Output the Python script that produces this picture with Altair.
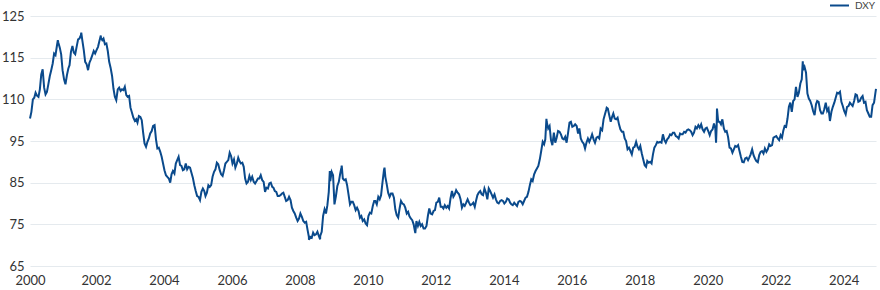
import altair as alt
import pandas as pd

# Semi-monthly readings (1st and 16th of each month), DXY index
dxy_2000 = [100.4, 102.0, 105.0, 105.4, 106.6, 105.9, 105.6, 107.4, 111.0, 112.2, 107.8, 106.2,
            106.8, 108.6, 110.6, 112.0, 113.6, 116.0, 115.6, 117.8, 118.6, 117.4, 115.8, 112.0]
dxy_2001 = [109.8, 108.6, 110.8, 112.4, 113.2, 116.4, 117.8, 116.2, 115.8, 117.6, 119.4, 119.6,
            120.4, 119.2, 116.8, 114.0, 113.4, 112.0, 113.8, 114.6, 115.6, 116.6, 116.0, 116.8]
dxy_2002 = [117.6, 119.0, 119.8, 119.2, 119.6, 118.2, 118.4, 116.6, 114.0, 112.6, 110.6, 107.6,
            105.6, 104.8, 107.4, 107.8, 107.0, 107.4, 107.2, 108.0, 106.0, 105.6, 105.8, 103.0]
dxy_2003 = [101.8, 100.6, 99.8, 100.2, 99.4, 101.0, 100.8, 100.0, 97.0, 94.4, 93.6, 94.8,
            95.6, 96.8, 97.4, 98.6, 98.8, 95.4, 93.2, 93.4, 92.4, 91.2, 89.6, 88.0]
dxy_2004 = [86.8, 86.4, 86.0, 85.0, 87.0, 87.8, 87.2, 89.6, 90.4, 91.2, 89.2, 89.0,
            88.0, 88.2, 89.6, 88.2, 88.8, 88.6, 87.4, 86.2, 84.4, 83.0, 81.8, 81.6]
dxy_2005 = [80.8, 82.8, 83.6, 83.0, 81.8, 82.6, 84.4, 84.0, 84.4, 86.4, 87.6, 88.2,
            89.8, 89.4, 88.0, 87.0, 86.6, 88.0, 89.6, 90.0, 90.4, 92.2, 91.4, 89.6]
dxy_2006 = [90.6, 88.6, 89.6, 91.0, 90.2, 89.6, 89.8, 88.8, 86.0, 84.8, 85.2, 86.6,
            85.6, 86.4, 85.2, 84.8, 85.4, 86.0, 86.0, 86.8, 85.6, 85.2, 82.8, 83.8]
dxy_2007 = [83.6, 84.8, 85.0, 84.0, 83.8, 83.0, 82.8, 81.8, 81.8, 82.0, 82.4, 82.6,
            81.6, 80.6, 80.8, 81.6, 80.8, 79.0, 78.2, 77.6, 76.6, 75.8, 76.4, 77.6]
dxy_2008 = [76.8, 75.8, 75.4, 75.6, 73.8, 72.0, 72.0, 71.8, 73.0, 72.4, 72.6, 73.2,
            72.2, 72.2, 73.2, 77.0, 78.6, 77.6, 79.6, 82.8, 85.4, 87.6, 86.8, 79.8]
dxy_2009 = [81.8, 84.2, 85.2, 87.2, 88.6, 86.0, 85.6, 85.8, 84.4, 82.2, 79.8, 80.4,
            80.4, 79.6, 78.4, 79.0, 78.2, 76.6, 77.0, 75.8, 76.2, 75.2, 74.8, 77.0]
dxy_2010 = [77.8, 77.6, 79.4, 80.6, 80.6, 79.8, 81.6, 81.0, 82.0, 85.0, 88.0, 86.4,
            84.6, 82.6, 81.6, 82.4, 82.4, 81.4, 78.6, 77.2, 76.6, 78.8, 80.6, 80.0]
dxy_2011 = [79.8, 79.0, 77.6, 78.0, 77.0, 76.4, 76.0, 75.0, 73.2, 75.8, 74.6, 75.6,
            74.6, 75.0, 74.0, 74.0, 74.6, 77.0, 78.8, 77.6, 77.4, 78.2, 78.4, 80.2]
dxy_2012 = [80.4, 81.4, 79.2, 79.2, 78.8, 79.6, 79.0, 79.4, 78.8, 81.2, 83.0, 81.6,
            82.2, 83.2, 82.6, 82.2, 81.0, 79.0, 79.8, 79.4, 80.2, 81.0, 80.2, 79.6]
dxy_2013 = [79.8, 80.2, 79.2, 80.8, 82.0, 82.6, 83.0, 82.2, 82.0, 83.6, 82.6, 81.0,
            83.6, 83.0, 82.2, 81.4, 82.2, 81.0, 80.2, 80.0, 80.6, 80.8, 80.6, 80.0]
dxy_2014 = [80.4, 81.2, 81.0, 80.2, 79.8, 79.6, 80.2, 79.8, 79.4, 80.4, 80.6, 80.4,
            79.8, 80.6, 81.4, 81.6, 82.8, 84.4, 85.8, 85.4, 87.0, 87.8, 88.4, 89.0]
dxy_2015 = [90.6, 92.6, 94.8, 94.2, 95.4, 99.6, 98.0, 98.6, 95.2, 94.0, 97.0, 94.6,
            95.8, 97.4, 97.2, 96.6, 95.6, 95.4, 96.0, 94.6, 97.0, 99.4, 99.6, 98.4]
dxy_2016 = [98.6, 99.0, 98.6, 96.8, 98.0, 95.6, 94.8, 94.4, 93.2, 94.6, 95.6, 94.8,
            95.6, 96.6, 95.4, 94.6, 95.8, 96.0, 95.6, 98.0, 97.6, 100.2, 101.4, 102.6]
dxy_2017 = [102.8, 101.2, 99.6, 100.8, 101.6, 100.4, 100.2, 100.6, 99.0, 97.8, 97.2, 97.2,
            95.6, 95.0, 93.0, 93.4, 92.6, 91.8, 93.4, 93.6, 94.8, 93.6, 93.0, 93.8]
dxy_2018 = [92.0, 90.6, 89.2, 88.8, 90.2, 89.8, 90.0, 89.6, 91.8, 93.4, 94.0, 94.8,
            94.6, 94.8, 94.6, 96.6, 95.2, 94.6, 95.4, 95.8, 96.6, 96.4, 97.0, 97.0]
dxy_2019 = [96.2, 96.0, 95.6, 96.8, 96.6, 96.6, 97.2, 97.0, 97.6, 97.8, 97.6, 97.2,
            96.4, 97.0, 98.4, 98.0, 98.8, 98.2, 99.0, 97.8, 97.2, 98.0, 98.2, 97.4]
dxy_2020 = [96.4, 97.4, 97.8, 99.2, 98.0, 98.8, 99.6, 99.6, 99.0, 100.2, 98.0, 97.2,
            97.4, 96.0, 93.4, 93.2, 92.2, 93.0, 93.8, 93.6, 94.0, 92.6, 91.2, 90.0]
dxy_2021 = [89.9, 90.8, 91.0, 90.4, 91.0, 91.8, 93.0, 91.6, 90.8, 90.2, 89.9, 91.6,
            92.4, 92.6, 92.0, 93.2, 92.4, 93.0, 94.2, 93.8, 94.0, 95.8, 96.0, 96.2]
dxy_2022 = [95.6, 95.2, 96.4, 95.8, 97.4, 98.6, 98.4, 100.4, 103.2, 104.2, 102.0, 104.6,
            105.0, 108.0, 105.6, 106.6, 108.8, 109.8, 112.0, 112.8, 111.4, 106.4, 105.2, 104.6]
dxy_2023 = [103.6, 102.2, 101.2, 103.8, 104.6, 104.4, 102.4, 101.6, 101.6, 102.6, 104.2, 102.2,
            102.8, 99.8, 102.0, 103.2, 104.2, 105.4, 106.6, 106.4, 106.8, 104.4, 103.4, 102.2]
dxy_2024 = [101.4, 103.2, 103.4, 104.2, 103.8, 103.4, 104.6, 106.2, 106.0, 104.4, 104.6, 105.4,
            105.8, 104.2, 104.4, 102.4, 101.6, 100.8, 100.8, 103.6, 104.2, 106.6]

# Extremes read separately (date, value)
extreme_dates = ["2000-10-26", "2001-07-05", "2002-01-31", "2008-03-17", "2008-07-15",
                 "2008-10-27", "2009-03-04", "2010-06-07", "2011-05-04", "2015-03-13",
                 "2016-12-20", "2020-03-09", "2020-03-19", "2022-09-27", "2024-11-22"]
extreme_values = [119.2, 121.0, 120.3, 71.3, 71.4,
                  87.8, 89.1, 88.6, 72.9, 100.3,
                  103.0, 94.6, 102.8, 114.1, 107.5]

series_name = "DXY"
years = list(range(2000, 2025))
yearly = [dxy_2000, dxy_2001, dxy_2002, dxy_2003, dxy_2004, dxy_2005, dxy_2006, dxy_2007,
          dxy_2008, dxy_2009, dxy_2010, dxy_2011, dxy_2012, dxy_2013, dxy_2014, dxy_2015,
          dxy_2016, dxy_2017, dxy_2018, dxy_2019, dxy_2020, dxy_2021, dxy_2022, dxy_2023,
          dxy_2024]

x_tick_years = [2000, 2002, 2004, 2006, 2008, 2010, 2012, 2014, 2016, 2018, 2020, 2022, 2024]
y_ticks = [65, 75, 85, 95, 105, 115, 125]
y_tick_labels = ["65", "75", "85", "95", "110", "115", "125"]

rows = []
for y, vals in zip(years, yearly):
    for i, v in enumerate(vals):
        m = i // 2 + 1
        d = 1 if i % 2 == 0 else 16
        rows.append((f"{y}-{m:02d}-{d:02d}", v))
rows += list(zip(extreme_dates, extreme_values))
df = pd.DataFrame(rows, columns=["date", "value"]).sort_values("date").reset_index(drop=True)
df["series"] = series_name

label_expr = "datum.label"
for t, l in zip(y_ticks, y_tick_labels):
    label_expr = f"datum.value == {t} ? '{l}' : ({label_expr})"

x_axis = alt.Axis(
    values=[alt.DateTime(year=y, month=1, date=1) for y in x_tick_years],
    format="%Y",
    title=None,
    grid=False,
    domain=False,
    ticks=False,
    labelFlush=False,
    labelFont="Lato",
    labelFontSize=13,
    labelColor="#333333",
    labelPadding=8,
    labelOffset={"condition": {"test": "year(datum.value) == 2000", "value": 0}, "value": -2},
)

y_axis = alt.Axis(
    values=y_ticks,
    labelExpr=label_expr,
    title=None,
    grid=True,
    gridColor="#e5eaee",
    gridWidth=1.2,
    domain=False,
    ticks=False,
    labelFont="Lato",
    labelFontSize=13,
    labelColor="#333333",
    labelPadding=6,
)

chart = alt.Chart(df).mark_line(strokeWidth=2).encode(
    x=alt.X("date:T", axis=x_axis,
            scale=alt.Scale(domain=[alt.DateTime(year=2000, month=1, date=1),
                                    alt.DateTime(year=2024, month=11, date=22)])),
    y=alt.Y("value:Q", axis=y_axis,
            scale=alt.Scale(domain=[65, 125], nice=False, zero=False)),
    color=alt.Color("series:N",
                    scale=alt.Scale(domain=[series_name], range=["#0a4a8c"]),
                    legend=alt.Legend(orient="none", legendX=799, legendY=-21, title=None,
                                      symbolType="stroke", symbolSize=361, symbolStrokeWidth=2,
                                      labelFont="Lato", labelFontSize=10, labelColor="#444444",
                                      padding=0, labelOffset=5)),
).properties(
    width=846,
    height=250,
    autosize=alt.AutoSizeParams(type="none"),
    padding={"left": 30, "top": 16, "right": 4, "bottom": 24},
).configure_view(strokeWidth=0)

chart.save("out.html", embed_options={"renderer": "svg", "actions": False})
